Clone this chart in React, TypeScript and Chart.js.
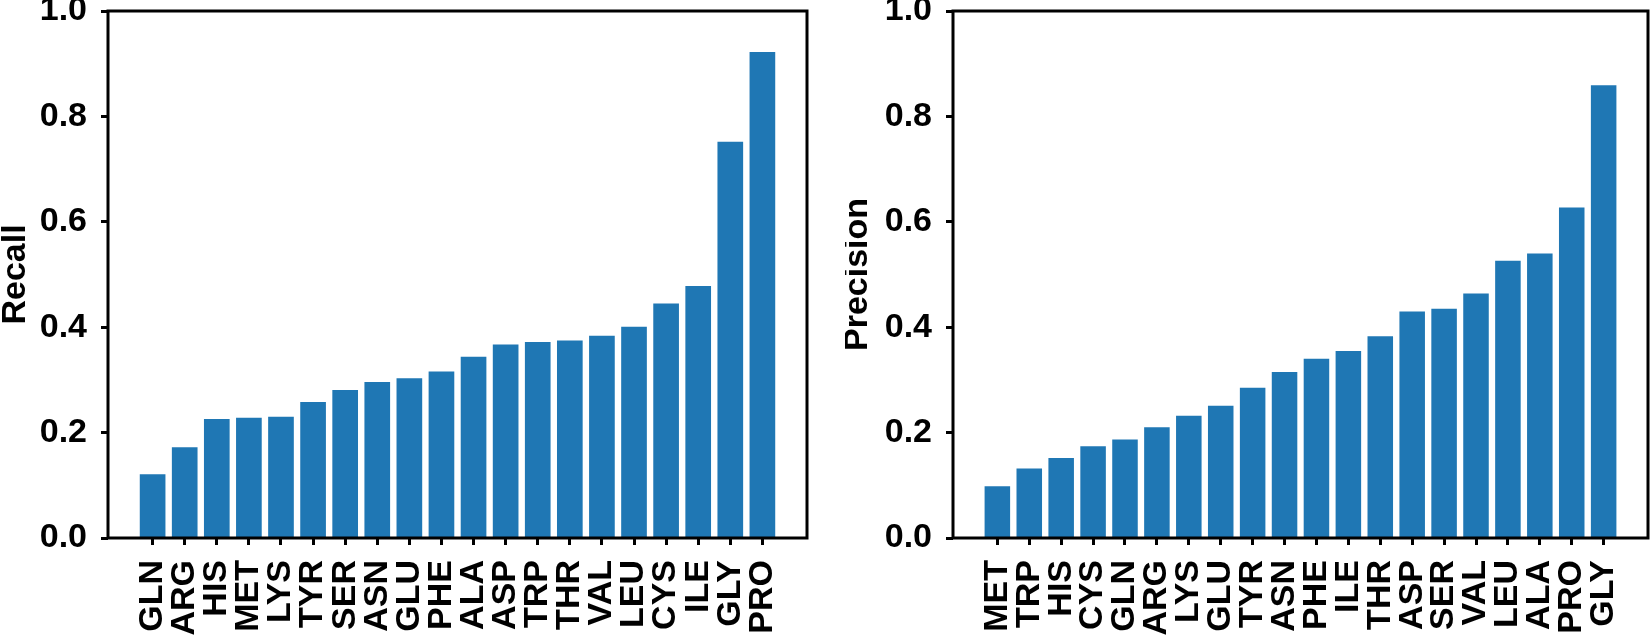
import React, { useEffect, useRef } from "react";
import { Chart, registerables } from "chart.js";

Chart.register(...registerables);

const recallLabels = ["GLN", "ARG", "HIS", "MET", "LYS", "TYR", "SER", "ASN", "GLU", "PHE", "ALA", "ASP", "TRP", "THR", "VAL", "LEU", "CYS", "ILE", "GLY", "PRO"];
const recallValues = [0.121, 0.172, 0.226, 0.228, 0.230, 0.258, 0.281, 0.296, 0.303, 0.316, 0.344, 0.367, 0.372, 0.375, 0.384, 0.401, 0.445, 0.478, 0.752, 0.922];

const precisionLabels = ["MET", "TRP", "HIS", "CYS", "GLN", "ARG", "LYS", "GLU", "TYR", "ASN", "PHE", "ILE", "THR", "ASP", "SER", "VAL", "LEU", "ALA", "PRO", "GLY"];
const precisionValues = [0.098, 0.132, 0.152, 0.174, 0.187, 0.210, 0.232, 0.251, 0.285, 0.315, 0.340, 0.355, 0.383, 0.430, 0.435, 0.464, 0.526, 0.540, 0.627, 0.859];

const yTickValues = [0, 0.2, 0.4, 0.6, 0.8, 1.0];

const FONT = { family: "'Liberation Sans', Arial, Helvetica, sans-serif", size: 34, weight: "bold" as const };
const BAR_COLOR = "#1f77b4";

const framePlugin = {
  id: "frame",
  afterDatasetsDraw(chart: any) {
    const { ctx, chartArea: a } = chart;
    ctx.save();
    ctx.strokeStyle = "#000";
    ctx.lineWidth = 3;
    ctx.strokeRect(a.left, a.top, a.right - a.left, a.bottom - a.top);
    ctx.restore();
  },
};

type PanelProps = {
  labels: string[];
  values: number[];
  title: string;
  left: number;
  width: number;
  padRight: number;
  titlePad: number;
};

function Panel({ labels, values, title, left, width, padRight, titlePad }: PanelProps) {
  const ref = useRef<HTMLCanvasElement | null>(null);
  useEffect(() => {
    if (!ref.current) return;
    const margin = 1.39;
    const tickGrid = {
      display: true,
      offset: false,
      drawOnChartArea: false,
      drawTicks: true,
      tickLength: 7,
      tickWidth: 3,
      tickColor: "#000",
    };
    const chart = new Chart(ref.current, {
      type: "bar",
      data: {
        datasets: [
          {
            data: values.map((v, i) => ({ x: i, y: v })),
            backgroundColor: BAR_COLOR,
            borderWidth: 0,
            categoryPercentage: 1,
            barPercentage: 0.8,
          },
        ],
      },
      options: {
        responsive: false,
        animation: false,
        devicePixelRatio: 1,
        layout: { padding: { left: 0, right: padRight, top: 11, bottom: 0 } },
        plugins: { legend: { display: false }, tooltip: { enabled: false } },
        scales: {
          x: {
            type: "linear",
            offset: false,
            min: -margin,
            max: labels.length - 1 + margin,
            bounds: "data",
            afterBuildTicks: (s: any) => {
              s.ticks = labels.map((_, i) => ({ value: i }));
            },
            afterFit: (s: any) => {
              s.height = 98;
              s.paddingLeft = 0;
              s.paddingRight = 0;
            },
            ticks: {
              autoSkip: false,
              maxRotation: 90,
              minRotation: 90,
              padding: 15,
              font: FONT,
              color: "#000",
              callback: (v: any) => labels[v] ?? "",
            },
            grid: tickGrid,
            border: { display: false },
          },
          y: {
            min: 0,
            max: 1,
            afterBuildTicks: (s: any) => {
              s.ticks = yTickValues.map((v) => ({ value: v }));
            },
            afterFit: (s: any) => {
              s.width = 108;
              s.paddingTop = 0;
              s.paddingBottom = 0;
            },
            ticks: {
              padding: 14,
              font: FONT,
              color: "#000",
              callback: (v: any) => Number(v).toFixed(1),
            },
            grid: tickGrid,
            border: { display: false },
            title: {
              display: true,
              text: title,
              font: FONT,
              color: "#000",
              padding: { top: titlePad, bottom: 0 },
            },
          },
        },
      } as any,
      plugins: [framePlugin],
    });
    return () => chart.destroy();
  }, [labels, values, title, padRight, titlePad]);

  return (
    <canvas
      ref={ref}
      width={width}
      height={636}
      style={{ position: "absolute", left, top: 0, width, height: 636 }}
    />
  );
}

export default function App() {
  return (
    <div style={{ position: "fixed", left: 0, top: 0, width: 1652, height: 636, background: "#fff", overflow: "hidden" }}>
      <Panel labels={recallLabels} values={recallValues} title="Recall" left={0} width={830} padRight={23} titlePad={-5} />
      <Panel labels={precisionLabels} values={precisionValues} title="Precision" left={845} width={807} padRight={4} titlePad={-8} />
    </div>
  );
}
